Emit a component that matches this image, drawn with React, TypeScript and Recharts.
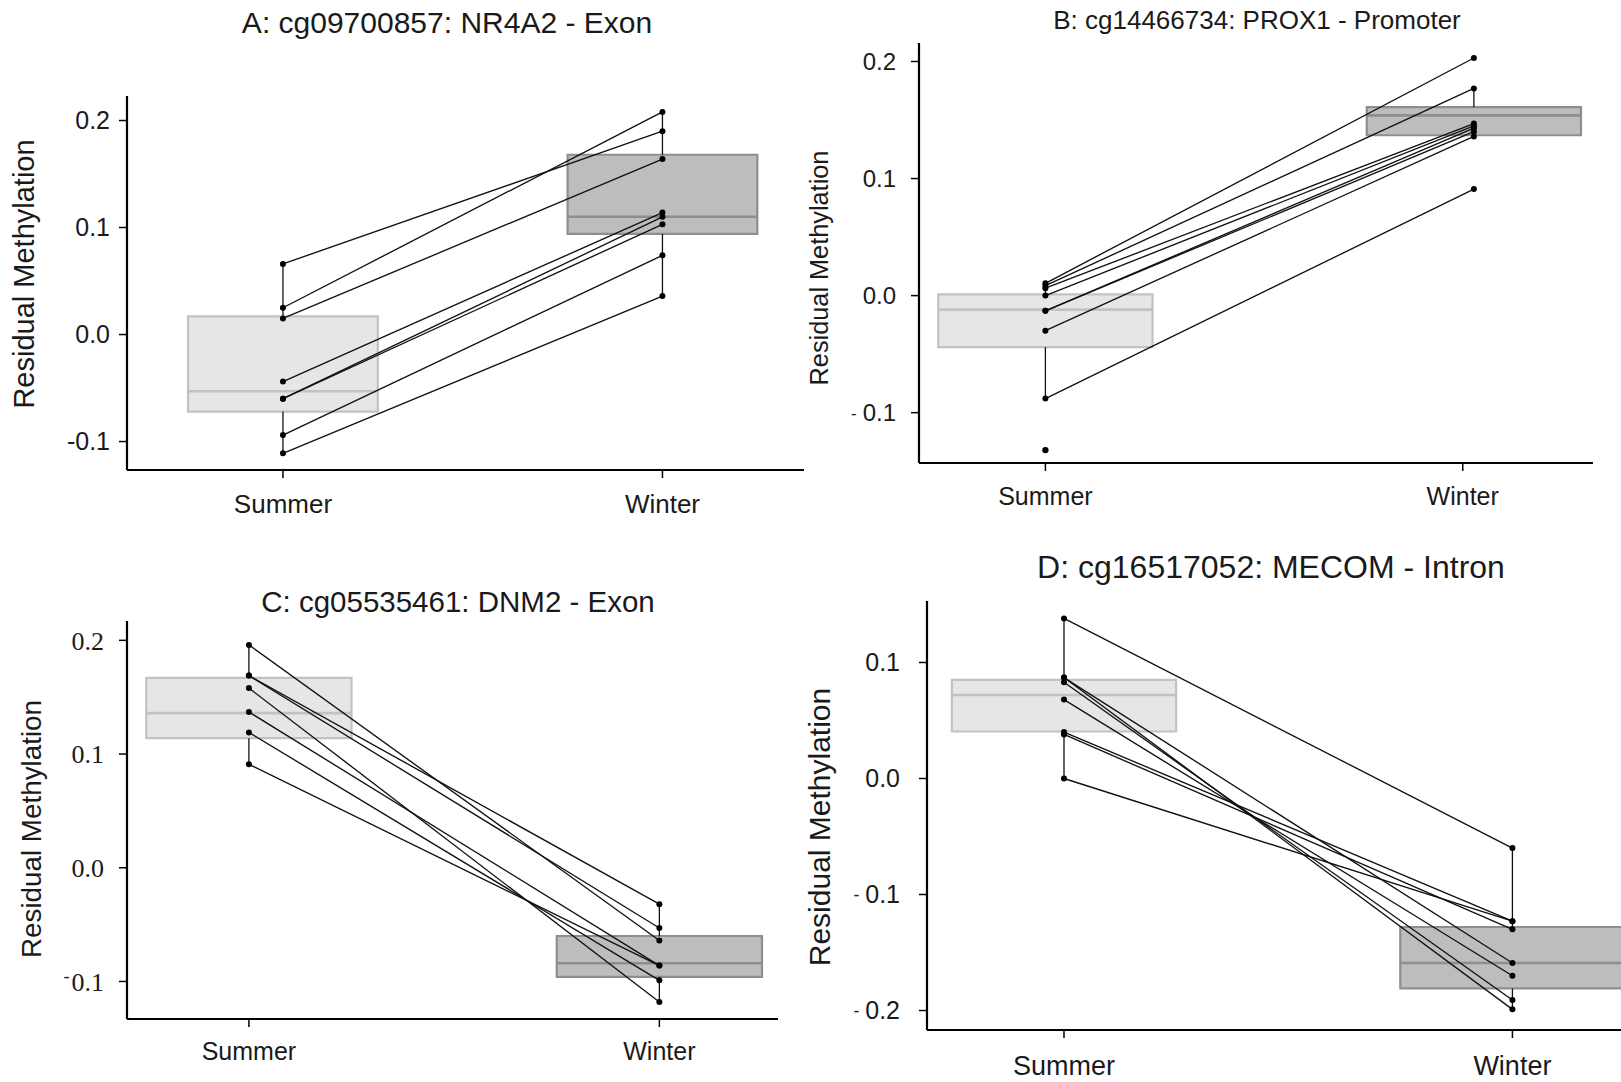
import React from 'react';
import { ComposedChart, Line, XAxis, YAxis, ReferenceArea, ReferenceLine, Scatter } from 'recharts';

const groups = ['Summer', 'Winter'];

// A: cg09700857 NR4A2
const summerA = [0.066, 0.025, 0.015, -0.044, -0.06, -0.06, -0.094, -0.111];
const winterA = [0.19, 0.208, 0.164, 0.114, 0.11, 0.103, 0.074, 0.036];
const boxSummerA = [-0.072, -0.053, 0.017];
const boxWinterA = [0.094, 0.11, 0.168];

// B: cg14466734 PROX1
const summerB = [0.0105, 0.0085, 0.0063, 0.0, -0.013, -0.013, -0.03, -0.088];
const winterB = [0.203, 0.177, 0.147, 0.145, 0.143, 0.14, 0.136, 0.091];
const outlierSummerB = [-0.132];
const boxSummerB = [-0.044, -0.012, 0.001];
const boxWinterB = [0.137, 0.154, 0.161];

// C: cg05535461 DNM2
const summerC = [0.196, 0.169, 0.169, 0.158, 0.137, 0.119, 0.091];
const winterC = [-0.064, -0.032, -0.053, -0.118, -0.086, -0.099, -0.086];
const boxSummerC = [0.114, 0.136, 0.167];
const boxWinterC = [-0.096, -0.084, -0.06];

// D: cg16517052 MECOM
const summerD = [0.138, 0.087, 0.087, 0.083, 0.068, 0.04, 0.038, 0.0];
const winterD = [-0.06, -0.199, -0.159, -0.191, -0.17, -0.123, -0.13, -0.123];
const boxSummerD = [0.0405, 0.072, 0.085];
const boxWinterD = [-0.181, -0.159, -0.128];

const ticksABC = [-0.1, 0, 0.1, 0.2];
const ticksD = [-0.2, -0.1, 0, 0.1];
// panel B's x ticks sit a little left of the Winter points in the original
const xTicksDefault = [1, 2];
const xTicksB = [1, 1.974];

const SANS = "'Liberation Sans', Arial, Helvetica, sans-serif";
const SERIF = "'Liberation Serif', 'Times New Roman', serif";
const INK = '#1a1a1a';
const BOX_FILL = ['#e6e6e6', '#bdbdbd'];
const BOX_STROKE = ['#c2c2c2', '#8e8e8e'];

type MinusStyle = 'plain' | 'dash' | 'super';

const makeYTick = (minus: MinusStyle, font: string, size: number) => (props: any) => {
  const { x, y, payload } = props;
  const v = payload.value as number;
  const baseY = y + size * 0.355;
  if (v < 0 && minus !== 'plain') {
    const up = minus === 'super' ? size * 0.32 : size * 0.08;
    return (
      <text x={x} y={baseY} textAnchor="end" fontFamily={font} fontSize={size} fill={INK}>
        <tspan fontSize={size * 0.7} dy={-up}>-</tspan>
        <tspan dx={minus === 'super' ? 2 : 6} dy={up}>{Math.abs(v).toFixed(1)}</tspan>
      </text>
    );
  }
  return (
    <text x={x} y={baseY} textAnchor="end" fontFamily={font} fontSize={size} fill={INK}>
      {v.toFixed(1)}
    </text>
  );
};

// whisker ends like ggplot: furthest point within 1.5 IQR
const whisker = (vals: number[], box: number[]) => {
  const iqr = box[2] - box[0];
  const inside = vals.filter((v) => v >= box[0] - 1.5 * iqr && v <= box[2] + 1.5 * iqr);
  return [Math.min(...inside), Math.max(...inside)];
};

interface PanelCfg {
  summer: number[];
  winter: number[];
  boxes: number[][];
  outliers: number[];
  plotLeft: number;
  plotTop: number;
  plotW: number;
  plotH: number;
  xDomain: [number, number];
  xTicks: number[];
  yDomain: [number, number];
  yTicks: number[];
  yTick: (p: any) => React.ReactElement;
  xFont: number;
  xMargin: number;
  yMargin: number;
}

function Panel({ cfg }: { cfg: PanelCfg }) {
  const YW = 110;
  const XH = 70;
  const M = 10;
  const width = YW + cfg.plotW + M;
  const height = M + cfg.plotH + XH;
  const groupVals = [cfg.summer.concat(cfg.outliers), cfg.winter];

  const boxEls: React.ReactElement[] = [];
  cfg.boxes.forEach((b, i) => {
    const cx = i + 1;
    const [lo, hi] = whisker(groupVals[i], b);
    boxEls.push(
      <ReferenceArea key={`box${i}`} x1={cx - 0.25} x2={cx + 0.25} y1={b[0]} y2={b[2]}
        fill={BOX_FILL[i]} fillOpacity={1} stroke={BOX_STROKE[i]} strokeWidth={2.2} ifOverflow="visible" />,
    );
    boxEls.push(
      <ReferenceLine key={`med${i}`} segment={[{ x: cx - 0.25, y: b[1] }, { x: cx + 0.25, y: b[1] }]}
        stroke={BOX_STROKE[i]} strokeWidth={2.6} ifOverflow="visible" />,
    );
    if (hi > b[2]) {
      boxEls.push(
        <ReferenceLine key={`wh${i}`} segment={[{ x: cx, y: b[2] }, { x: cx, y: hi }]}
          stroke="#111" strokeWidth={1.3} ifOverflow="visible" />,
      );
    }
    if (lo < b[0]) {
      boxEls.push(
        <ReferenceLine key={`wl${i}`} segment={[{ x: cx, y: b[0] }, { x: cx, y: lo }]}
          stroke="#111" strokeWidth={1.3} ifOverflow="visible" />,
      );
    }
  });

  return (
    <div style={{ position: 'absolute', left: cfg.plotLeft - YW, top: cfg.plotTop - M }}>
      <ComposedChart width={width} height={height} margin={{ top: M, right: M, bottom: 0, left: 0 }}>
        <XAxis
          type="number"
          dataKey="x"
          domain={cfg.xDomain}
          allowDataOverflow
          ticks={cfg.xTicks}
          tickFormatter={(v: number) => groups[cfg.xTicks.indexOf(v)]}
          height={XH}
          axisLine={{ stroke: '#000', strokeWidth: 2.2 }}
          tickLine={{ stroke: '#000', strokeWidth: 1.5 }}
          tickSize={8}
          tickMargin={cfg.xMargin}
          tick={{ fontSize: cfg.xFont, fill: INK, fontFamily: SANS }}
        />
        <YAxis
          type="number"
          dataKey="y"
          domain={cfg.yDomain}
          allowDataOverflow
          ticks={cfg.yTicks}
          width={YW}
          axisLine={{ stroke: '#000', strokeWidth: 2.2 }}
          tickLine={{ stroke: '#000', strokeWidth: 1.5 }}
          tickSize={8}
          tickMargin={cfg.yMargin}
          tick={cfg.yTick}
        />
        {boxEls}
        {cfg.summer.map((s, i) => (
          <Line
            key={`pair${i}`}
            data={[{ x: 1, y: s }, { x: 2, y: cfg.winter[i] }]}
            dataKey="y"
            type="linear"
            stroke="#111"
            strokeWidth={1.35}
            dot={{ r: 3, fill: '#000', stroke: 'none' }}
            activeDot={false}
            isAnimationActive={false}
          />
        ))}
        {cfg.outliers.length > 0 && (
          <Scatter
            data={cfg.outliers.map((y) => ({ x: 1, y }))}
            dataKey="y"
            isAnimationActive={false}
            shape={(p: any) => <circle cx={p.cx} cy={p.cy} r={3.2} fill="#000" />}
          />
        )}
      </ComposedChart>
    </div>
  );
}

const panelA: PanelCfg = {
  summer: summerA, winter: winterA, boxes: [boxSummerA, boxWinterA], outliers: [],
  plotLeft: 127, plotTop: 96, plotW: 677, plotH: 374,
  xDomain: [0.589, 2.373], xTicks: xTicksDefault, yDomain: [-0.1266, 0.2229], yTicks: ticksABC,
  yTick: makeYTick('plain', SANS, 25), xFont: 26, xMargin: 17, yMargin: 9,
};
const panelB: PanelCfg = {
  summer: summerB, winter: winterB, boxes: [boxSummerB, boxWinterB], outliers: outlierSummerB,
  plotLeft: 919, plotTop: 43, plotW: 674, plotH: 420,
  xDomain: [0.705, 2.278], xTicks: xTicksB, yDomain: [-0.143, 0.2158], yTicks: ticksABC,
  yTick: makeYTick('dash', SANS, 24), xFont: 25, xMargin: 16, yMargin: 15,
};
const panelC: PanelCfg = {
  summer: summerC, winter: winterC, boxes: [boxSummerC, boxWinterC], outliers: [],
  plotLeft: 127, plotTop: 621, plotW: 651, plotH: 398,
  xDomain: [0.703, 2.289], xTicks: xTicksDefault, yDomain: [-0.133, 0.217], yTicks: ticksABC,
  yTick: makeYTick('super', SERIF, 26), xFont: 25, xMargin: 15, yMargin: 15,
};
const panelD: PanelCfg = {
  summer: summerD, winter: winterD, boxes: [boxSummerD, boxWinterD], outliers: [],
  plotLeft: 927, plotTop: 601, plotW: 702, plotH: 429,
  xDomain: [0.6945, 2.26], xTicks: xTicksDefault, yDomain: [-0.2168, 0.153], yTicks: ticksD,
  yTick: makeYTick('dash', SANS, 25), xFont: 27, xMargin: 18, yMargin: 19,
};

const titleStyle = (cx: number, cy: number, size: number): React.CSSProperties => ({
  position: 'absolute', left: cx, top: cy, transform: 'translate(-50%, -50%)',
  fontFamily: SANS, fontSize: size, color: INK, whiteSpace: 'nowrap', lineHeight: 1,
});
const yLabelStyle = (cx: number, cy: number, size: number): React.CSSProperties => ({
  position: 'absolute', left: cx, top: cy, transform: 'translate(-50%, -50%) rotate(-90deg)',
  fontFamily: SANS, fontSize: size, color: INK, whiteSpace: 'nowrap', lineHeight: 1,
});

export default function App() {
  return (
    <div style={{ position: 'absolute', left: 0, top: 0, width: 1621, height: 1082, overflow: 'hidden', background: '#fff' }}>
      <Panel cfg={panelA} />
      <Panel cfg={panelB} />
      <Panel cfg={panelC} />
      <Panel cfg={panelD} />
      <div style={titleStyle(447, 23, 30)}>A: cg09700857: NR4A2 - Exon</div>
      <div style={titleStyle(1257, 20, 26)}>B: cg14466734: PROX1 - Promoter</div>
      <div style={titleStyle(458, 602, 29.5)}>C: cg05535461: DNM2 - Exon</div>
      <div style={titleStyle(1271, 567, 32)}>D: cg16517052: MECOM - Intron</div>
      <div style={yLabelStyle(24, 274, 29)}>Residual Methylation</div>
      <div style={yLabelStyle(820, 268, 25.3)}>Residual Methylation</div>
      <div style={yLabelStyle(32, 829, 27.8)}>Residual Methylation</div>
      <div style={yLabelStyle(820, 827, 30)}>Residual Methylation</div>
    </div>
  );
}
